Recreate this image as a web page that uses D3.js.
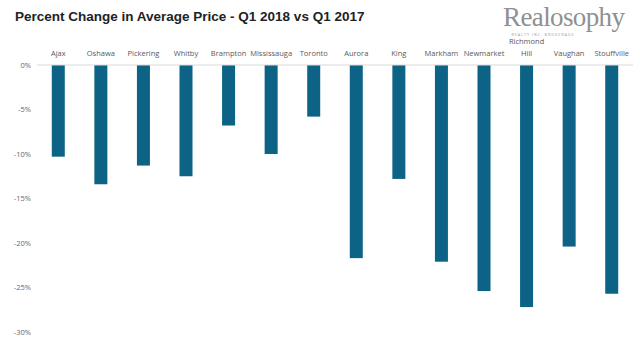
<!DOCTYPE html>
<html>
<head>
<meta charset="utf-8">
<script src="https://cdn.jsdelivr.net/npm/d3@7"></script>
<style>
  body { margin: 0; background: #fff; }
  text { font-family: "Open Sans", "DejaVu Sans", sans-serif; }
</style>
</head>
<body>
<div id="container"></div>
<script>
// data
const cities = ["Ajax", "Oshawa", "Pickering", "Whitby", "Brampton", "Mississauga", "Toronto",
  "Aurora", "King", "Markham", "Newmarket", "Richmond Hill", "Vaughan", "Stouffville"];
const change = [-10.3, -13.4, -11.3, -12.5, -6.8, -10.0, -5.8,
  -21.7, -12.8, -22.1, -25.4, -27.2, -20.4, -25.7];
const yTicks = [0, -5, -10, -15, -20, -25, -30];

const width = 640;
const height = 355;

const svg = d3.select("#container")
  .append("svg")
  .attr("width", width)
  .attr("height", height);

const xScale = d3.scaleBand()
  .domain(cities)
  .range([37, 633]);

const yScale = d3.scaleLinear()
  .domain([0, -30])
  .range([65, 332]);

// title
svg.append("text")
  .attr("x", 15)
  .attr("y", 21)
  .attr("font-size", 13.5)
  .attr("font-weight", "bold")
  .attr("fill", "#222")
  .style("font-family", "Arial, 'Liberation Sans', sans-serif")
  .text("Percent Change in Average Price - Q1 2018 vs Q1 2017");

// logo
svg.append("text")
  .attr("x", 564)
  .attr("y", 26)
  .attr("text-anchor", "middle")
  .attr("font-size", 27)
  .attr("fill", "#909090")
  .style("font-family", "'Liberation Serif', 'DejaVu Serif', serif")
  .attr("textLength", 122)
  .text("Realosophy");

svg.append("text")
  .attr("x", 543)
  .attr("y", 36)
  .attr("text-anchor", "middle")
  .attr("font-size", 3.8)
  .attr("fill", "#999")
  .attr("letter-spacing", 0.9)
  .text("REALTY INC. BROKERAGE");

// y tick labels
svg.selectAll("text.tick")
  .data(yTicks)
  .join("text")
  .attr("class", "tick")
  .attr("x", 31)
  .attr("y", d => yScale(d))
  .attr("dy", "0.35em")
  .attr("text-anchor", "end")
  .attr("font-size", 7.5)
  .attr("fill", "#666")
  .text(d => d + "%");

// bars
svg.selectAll("rect")
  .data(cities)
  .join("rect")
  .attr("x", d => xScale(d) + xScale.bandwidth() / 2 - 6.5)
  .attr("y", yScale(0))
  .attr("width", 13)
  .attr("height", (d, i) => yScale(change[i]) - yScale(0))
  .attr("fill", "#0d6385");

// zero line
svg.append("line")
  .attr("x1", 37)
  .attr("x2", 633)
  .attr("y1", yScale(0))
  .attr("y2", yScale(0))
  .attr("stroke", "#d9d9d9")
  .attr("stroke-width", 1);

// category labels, split long names onto two lines
svg.selectAll("text.city")
  .data(cities)
  .join("text")
  .attr("class", "city")
  .attr("text-anchor", "middle")
  .attr("font-size", 7.5)
  .attr("fill", "#595959")
  .each(function(d) {
    const lines = d === "Richmond Hill" ? ["Richmond", "Hill"] : [d];
    const x = xScale(d) + xScale.bandwidth() / 2;
    d3.select(this).selectAll("tspan")
      .data(lines)
      .join("tspan")
      .attr("x", x)
      .attr("y", (l, j) => 56 - (lines.length - 1 - j) * 12)
      .text(l => l);
  });
</script>
</body>
</html>
